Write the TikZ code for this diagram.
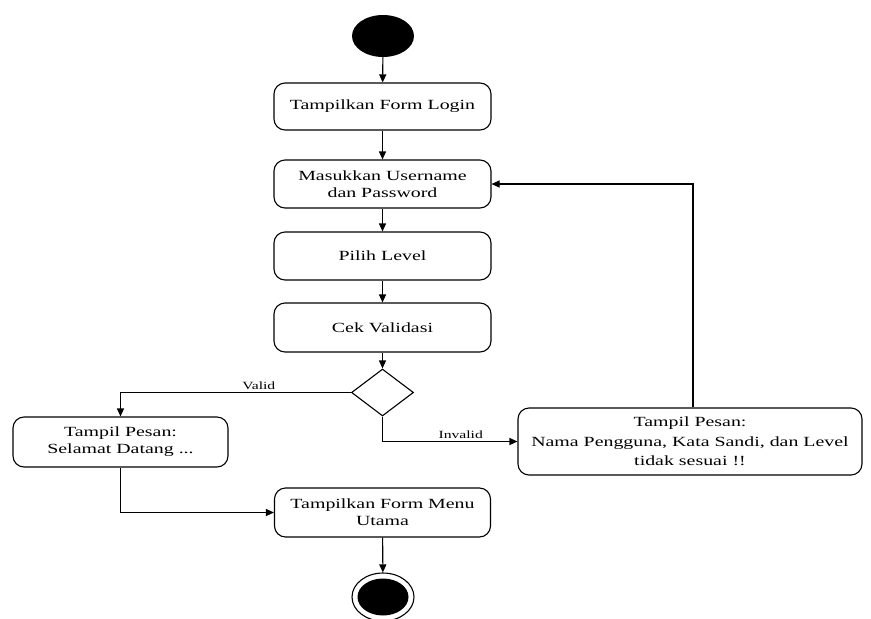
\documentclass[tikz,border=0pt]{standalone}
\usepackage{fontspec}
\setmainfont{Liberation Serif}[FakeStretch=1.42]
\usetikzlibrary{shapes.geometric,arrows.meta}

\tikzset{
  activity/.style={draw=black, line width=1.1pt, rounded corners=11pt,
    align=center, inner sep=2pt, font=\fontsize{14}{17}\selectfont},
  flow/.style={draw=black, line width=1.1pt, -{Triangle[length=8pt,width=7pt]}},
  guard/.style={font=\fontsize{11}{13}\selectfont, inner sep=2pt},
  decision/.style={diamond, draw=black, line width=1.1pt, inner sep=0pt,
    minimum width=62pt, minimum height=47pt},
}

\begin{document}
\begin{tikzpicture}[x=1pt, y=-1pt]
  \useasboundingbox (0,0) rectangle (871,619);

  % initial node
  \node[ellipse, fill=black, minimum width=62pt, minimum height=42pt, inner sep=0pt] (start) at (383,36) {};

  % login steps
  \node[activity, minimum width=217pt, minimum height=47pt] (login) at (382.5,106.5) {Tampilkan Form Login};
  \node[activity, minimum width=217pt, minimum height=48pt] (creds) at (382.5,184) {Masukkan Username\\dan Password};
  \node[activity, minimum width=217pt, minimum height=48pt] (level) at (382.5,256) {Pilih Level};
  \node[activity, minimum width=217pt, minimum height=49pt] (check) at (382.5,327.5) {Cek Validasi};

  % branch
  \node[decision] (dec) at (382.5,392.5) {};

  \node[activity, minimum width=215pt, minimum height=50pt] (welcome) at (120.5,442) {Tampil Pesan:\\Selamat Datang ...};
  \node[activity, minimum width=344pt, minimum height=67pt, font=\fontsize{14}{19.5}\selectfont] (invalid) at (690,441.5)
    {Tampil Pesan:\\Nama Pengguna, Kata Sandi, dan Level\\tidak sesuai !!};

  \node[activity, minimum width=216pt, minimum height=49pt] (menu) at (382.5,512.5) {Tampilkan Form Menu\\Utama};

  % final node
  \node[ellipse, draw=black, line width=1.1pt, minimum width=62pt, minimum height=48pt, inner sep=0pt] (endring) at (383,597) {};
  \node[ellipse, fill=black, minimum width=51pt, minimum height=37pt, inner sep=0pt] (enddot) at (endring.center) {};

  % control flow
  \draw[flow] (start) -- (login);
  \draw[flow] (login) -- (creds);
  \draw[flow] (creds) -- (level);
  \draw[flow] (level) -- (check);
  \draw[flow] (check) -- (dec);
  \draw[flow] (dec.west) -| node[guard, pos=0.2, above] (lvalid) {Valid} (welcome.north);
  \draw[flow] (dec.south) |- node[guard, pos=0.79, above] (linvalid) {Invalid} (invalid.west);
  \draw[flow] (welcome.south) |- (menu.west);
  \draw[flow] ([xshift=3pt]invalid.north) |- (creds.east);
  \draw[flow] (menu) -- (endring);
\end{tikzpicture}
\end{document}
